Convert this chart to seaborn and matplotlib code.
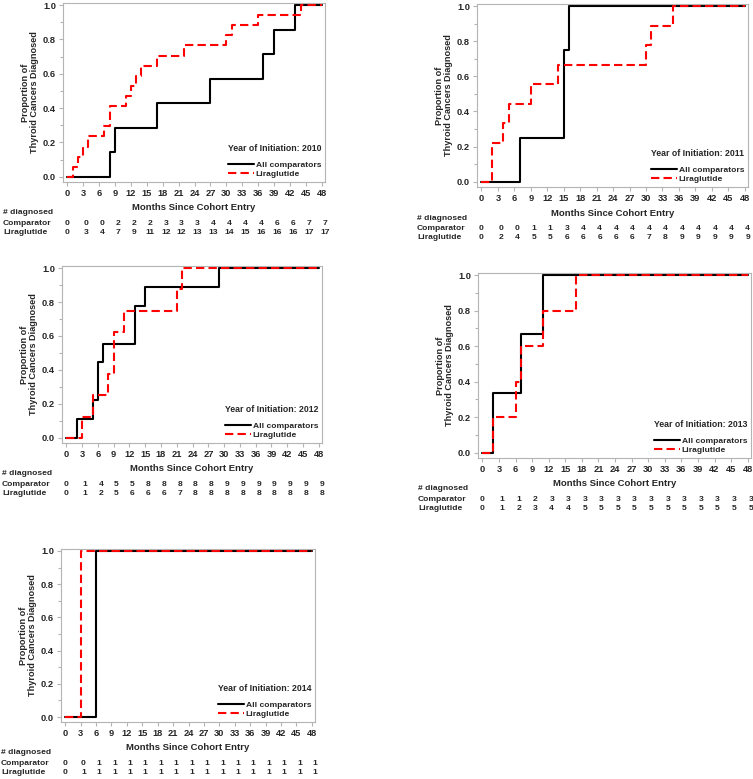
import numpy as np
import pandas as pd
import matplotlib
matplotlib.use("Agg")
import matplotlib.pyplot as plt
from matplotlib.lines import Line2D
from matplotlib.transforms import ScaledTranslation, blended_transform_factory
import seaborn as sns

# Времена событий (месяцы) и накопленное число диагнозов
comp_2010_t = [8, 9, 17, 27, 37, 39, 43]
comp_2010_n = [1, 2, 3, 4, 5, 6, 7]
lira_2010_t = [1, 2, 3, 4, 7, 8, 11, 12, 13, 14, 17, 22, 30, 31, 36, 44]
lira_2010_n = [1, 2, 3, 4, 5, 7, 8, 9, 10, 11, 12, 13, 14, 15, 16, 17]

comp_2011_t = [7, 15, 16]
comp_2011_n = [1, 3, 4]
lira_2011_t = [2, 4, 5, 9, 14, 30, 31, 35]
lira_2011_n = [2, 3, 4, 5, 6, 7, 8, 9]

comp_2012_t = [2, 5, 6, 7, 13, 15, 29]
comp_2012_n = [1, 2, 4, 5, 7, 8, 9]
lira_2012_t = [3, 5, 8, 9, 11, 21, 22]
lira_2012_n = [1, 2, 3, 5, 6, 7, 8]

comp_2013_t = [2, 7, 11]
comp_2013_n = [1, 2, 3]
lira_2013_t = [2, 6, 7, 11, 17]
lira_2013_n = [1, 2, 3, 4, 5]

comp_2014_t = [6]
comp_2014_n = [1]
lira_2014_t = [3]
lira_2014_n = [1]

# Таблица "# diagnosed" под каждым графиком
tab_comp_2010 = [0, 0, 0, 2, 2, 2, 3, 3, 3, 4, 4, 4, 4, 6, 6, 7, 7]
tab_lira_2010 = [0, 3, 4, 7, 9, 11, 12, 12, 13, 13, 14, 15, 16, 16, 16, 17, 17]
tab_comp_2011 = [0, 0, 0, 1, 1, 3, 4, 4, 4, 4, 4, 4, 4, 4, 4, 4, 4]
tab_lira_2011 = [0, 2, 4, 5, 5, 6, 6, 6, 6, 6, 7, 8, 9, 9, 9, 9, 9]
tab_comp_2012 = [0, 1, 4, 5, 5, 8, 8, 8, 8, 8, 9, 9, 9, 9, 9, 9, 9]
tab_lira_2012 = [0, 1, 2, 5, 6, 6, 6, 7, 8, 8, 8, 8, 8, 8, 8, 8, 8]
tab_comp_2013 = [0, 1, 1, 2, 3, 3, 3, 3, 3, 3, 3, 3, 3, 3, 3, 3, 3]
tab_lira_2013 = [0, 1, 2, 3, 4, 4, 5, 5, 5, 5, 5, 5, 5, 5, 5, 5, 5]
tab_comp_2014 = [0, 0, 1, 1, 1, 1, 1, 1, 1, 1, 1, 1, 1, 1, 1, 1, 1]
tab_lira_2014 = [0, 1, 1, 1, 1, 1, 1, 1, 1, 1, 1, 1, 1, 1, 1, 1, 1]

month_ticks = list(range(0, 49, 3))
groups = ["All comparators", "Liraglutide"]
colors = {"All comparators": "black", "Liraglutide": "#ff0000"}
dashes = {"All comparators": "", "Liraglutide": (4, 2)}

sns.set_style("white")
plt.rcParams["font.family"] = ["Liberation Sans", "DejaVu Sans"]
plt.rcParams["font.weight"] = "bold"

W, H = 753, 779
fig = plt.figure(figsize=(W / 100, H / 100), dpi=100)

# (год, данные, рамка осей в пикселях: left, top, right, bottom)
panels = [
    (2010, comp_2010_t, comp_2010_n, lira_2010_t, lira_2010_n, tab_comp_2010, tab_lira_2010, (63, 3, 325, 182)),
    (2011, comp_2011_t, comp_2011_n, lira_2011_t, lira_2011_n, tab_comp_2011, tab_lira_2011, (477, 4, 748, 187)),
    (2012, comp_2012_t, comp_2012_n, lira_2012_t, lira_2012_n, tab_comp_2012, tab_lira_2012, (62, 266, 322, 443)),
    (2013, comp_2013_t, comp_2013_n, lira_2013_t, lira_2013_n, tab_comp_2013, tab_lira_2013, (478, 273, 751, 458)),
    (2014, comp_2014_t, comp_2014_n, lira_2014_t, lira_2014_n, tab_comp_2014, tab_lira_2014, (61, 549, 315, 722)),
]


def step_frame(times, counts, label):
    total = counts[-1]
    x = [0] + list(times) + [48]
    y = [0] + [c / total for c in counts] + [counts[-1] / total]
    return pd.DataFrame({"month": x, "prop": y, "group": label})


def px(dx, dy):
    return ScaledTranslation(dx / 100, dy / 100, fig.dpi_scale_trans)


gray = "#b4b4b4"
for year, ct, cn, lt, ln, tc, tl, (l, t, r, b) in panels:
    ax = fig.add_axes([l / W, 1 - b / H, (r - l) / W, (b - t) / H])
    df = pd.concat([step_frame(ct, cn, groups[0]), step_frame(lt, ln, groups[1])])
    sns.lineplot(data=df, x="month", y="prop", hue="group", style="group",
                 palette=colors, dashes=dashes, drawstyle="steps-post",
                 estimator=None, sort=False, lw=1.5, legend=False, ax=ax)

    ax.set_xlim(-0.8, 48.6)
    ax.set_ylim(-0.03, 1.012)
    ax.set_xticks(month_ticks)
    ax.set_yticks(np.arange(0, 1.01, 0.2))
    ax.set_yticks(np.arange(0.1, 1.0, 0.2), minor=True)
    ax.yaxis.set_major_formatter(matplotlib.ticker.FormatStrFormatter("%.1f"))
    ax.tick_params(axis="both", which="major", direction="out", length=3, width=0.8,
                   color=gray, labelsize=6.7, pad=2, bottom=True, left=True)
    ax.tick_params(axis="y", which="minor", direction="out", length=2, width=0.8,
                   color=gray, left=True)
    for lab in ax.get_xticklabels() + ax.get_yticklabels():
        lab.set_fontweight("bold")
    for sp in ax.spines.values():
        sp.set_color(gray)
        sp.set_linewidth(0.8)
    ax.set_xlabel("")
    ax.set_ylabel("")

    # подпись оси Y и оси X
    ax.text(0, 0.5, "Proportion of\nThyroid Cancers Diagnosed", rotation=90,
            ha="center", va="center", fontsize=6.6, fontweight="bold",
            linespacing=1.05, transform=ax.transAxes + px(-33, 0))
    ax.text(0.5, 0, "Months Since Cohort Entry", ha="center", va="center",
            fontsize=6.8, fontweight="bold", transform=ax.transAxes + px(0, -26))

    handles = [Line2D([], [], color="black", lw=1.5),
               Line2D([], [], color="#ff0000", lw=1.5, dashes=(4, 2))]
    leg = ax.legend(handles, groups, title=f"Year of Initiation: {year}", loc="lower right",
                    frameon=False, prop={"size": 6.1, "weight": "bold"},
                    title_fontproperties={"size": 6.3, "weight": "bold"},
                    alignment="left", handlelength=3.1, handletextpad=0.2,
                    labelspacing=0.15, borderaxespad=0.25, borderpad=0.2)
    leg._legend_box.sep = 6

    # таблица числа диагнозов
    btr = blended_transform_factory(ax.transData, ax.transAxes)
    ltr = ax.transAxes
    ax.text(0, 0, "# diagnosed", ha="left", va="center", fontsize=6.1, fontweight="bold",
            transform=ltr + px(-60, -31))
    for row_name, vals, dy in [("Comparator", tc, -41.5), ("Liraglutide", tl, -50.5)]:
        ax.text(0, 0, row_name, ha="left", va="center", fontsize=6.1, fontweight="bold",
                transform=ltr + px(-60, dy))
        for i, (m, v) in enumerate(zip(month_ticks, vals)):
            off = 0 if i == 0 else 3
            ax.text(m, 0, str(v), ha="center", va="center", fontsize=6.1,
                    fontweight="bold", transform=btr + px(off, dy))

fig.savefig("out.png", dpi=100)
